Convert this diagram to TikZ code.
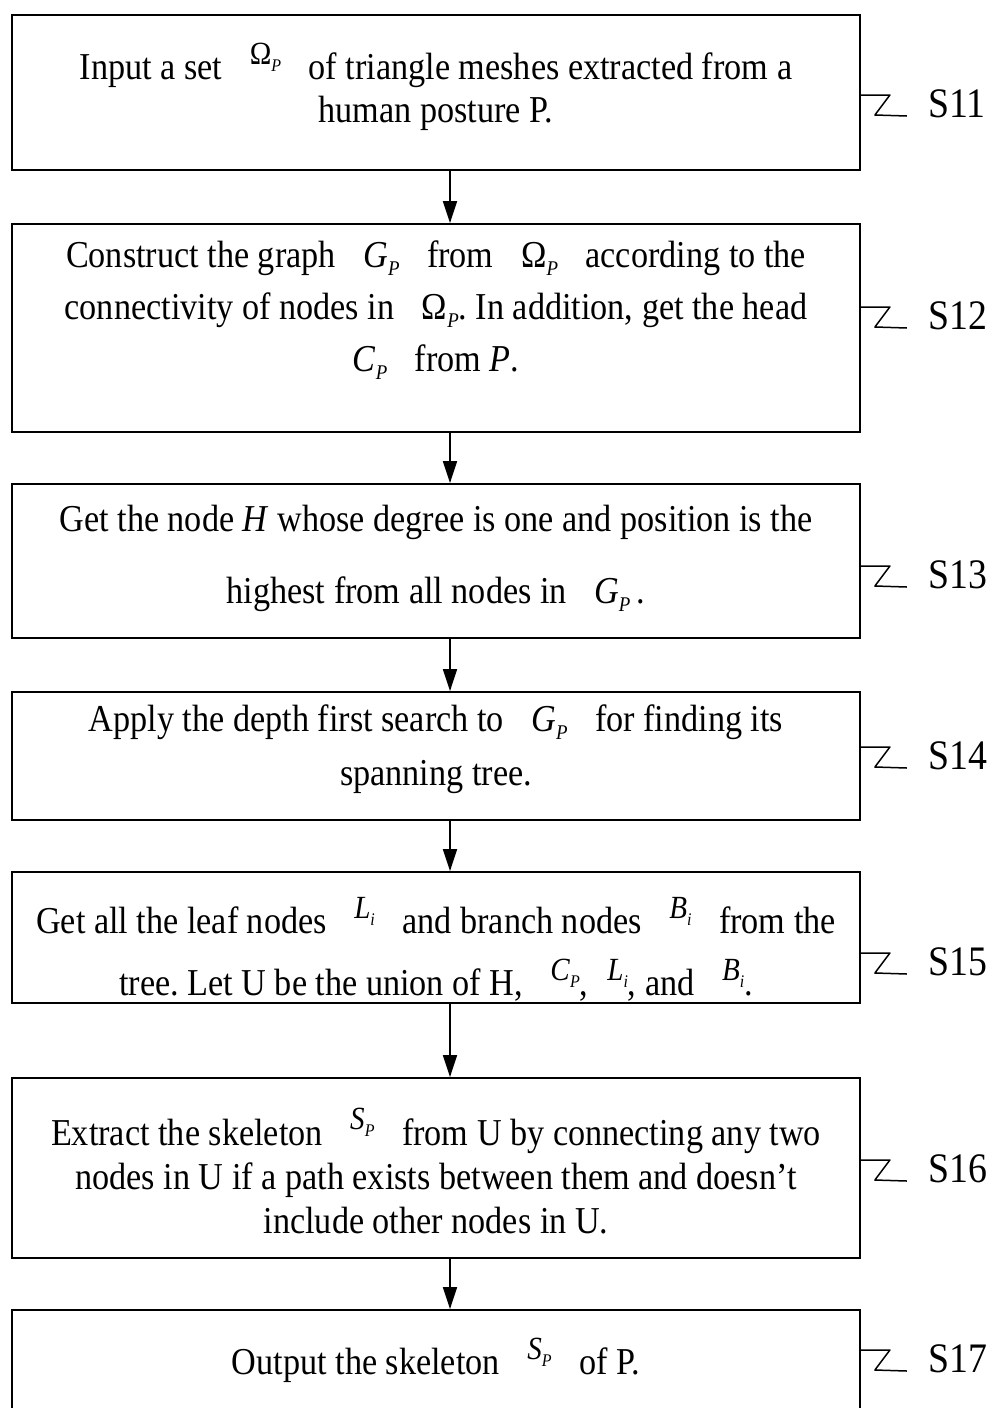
\documentclass[tikz,border=0pt]{standalone}
\usepackage{fontspec}
\setmainfont{Liberation Serif}[FakeStretch=0.9]
\usetikzlibrary{arrows.meta}
\frenchspacing
\newcommand\sbs[1]{\raisebox{-0.22em}{\scalebox{0.55}{\textit{#1}}}}
\newcommand\vm[2]{\textit{#1}\sbs{#2}}
\newcommand\rz[1]{\raisebox{0.4em}{\scalebox{0.85}{#1}}}
\begin{document}
\begin{tikzpicture}[x=1pt,y=-1pt,
  box/.style={draw, line width=1.8pt, minimum width=848pt, inner sep=0pt},
  txt/.style={align=center, inner sep=0pt, font=\fontsize{38}{#1}\selectfont\frenchspacing},
  lab/.style={inner sep=0pt, font=\fontsize{42}{44}\selectfont},
  arr/.style={line width=1.6pt, -{Triangle[length=22pt,width=14pt]}},
  sq/.style={line width=1.5pt, line join=round}]
\clip (0,0) rectangle (988,1408);
\coordinate (ax) at (450,0);
% boxes
\node[box, minimum height=155pt] (s11) at (436,92.5) {};
\node[box, minimum height=208pt] (s12) at (436,328) {};
\node[box, minimum height=154pt] (s13) at (436,561) {};
\node[box, minimum height=128pt] (s14) at (436,756) {};
\node[box, minimum height=131pt] (s15) at (436,937.5) {};
\node[box, minimum height=180pt] (s16) at (436,1168) {};
\node[box, minimum height=120pt] (s17) at (436,1370) {};
% texts
\node[txt=43pt] (t11) at (436,86.5) {Input a set \enspace\rz{Ω\sbs{P}}\enspace\ of triangle meshes extracted from a\\human posture P.};
\node[txt=52pt] (t12) at (436,310) {Construct the graph \enspace\vm{G}{P}\enspace\ from \enspace Ω\sbs{P}\enspace\ according to the\\connectivity of nodes in \enspace Ω\sbs{P}. In addition, get the head\\\vm{C}{P}\enspace\ from \textit{P}.};
\node[txt=72pt] (t13) at (436,558) {Get the node \textit{H} whose degree is one and position is the\\highest from all nodes in \enspace\vm{G}{P}\,.};
\node[txt=54pt] (t14) at (436,749) {Apply the depth first search to \enspace\vm{G}{P}\enspace\ for finding its\\spanning tree.};
\node[txt=62pt] (t15) at (436,949) {Get all the leaf nodes \enspace\rz{\vm{L}{i}}\enspace\ and branch nodes \enspace\rz{\vm{B}{i}}\enspace\ from the\\tree. Let U be the union of H, \enspace\rz{\vm{C}{P}},\enspace\rz{\vm{L}{i}}, and \enspace\rz{\vm{B}{i}}.};
\node[txt=44pt] (t16) at (436,1171) {Extract the skeleton \enspace\rz{\vm{S}{P}}\enspace\ from U by connecting any two\\nodes in U if a path exists between them and doesn’t\\include other nodes in U.};
\node[txt=40pt] (t17) at (436,1360) {Output the skeleton \enspace\rz{\vm{S}{P}}\enspace\ of P.};
% arrows
\draw[arr] (s11.south -| ax) -- (s12.north -| ax);
\draw[arr] (s12.south -| ax) -- (s13.north -| ax);
\draw[arr] (s13.south -| ax) -- (s14.north -| ax);
\draw[arr] (s14.south -| ax) -- (s15.north -| ax);
\draw[arr] (s15.south -| ax) -- (s16.north -| ax);
\draw[arr] (s16.south -| ax) -- (s17.north -| ax);
% labels
\foreach \n/\y in {11/104,12/316,13/575,14/756,15/962,16/1169,17/1359}{
  \node[lab, anchor=west] (l\n) at (928,\y) {S\n};
  \draw[sq] ([yshift=9pt]s\n.east |- l\n.west) -- ++(29,0) -- ++(-15,20) -- ++(32,1);
}
\end{tikzpicture}
\end{document}
